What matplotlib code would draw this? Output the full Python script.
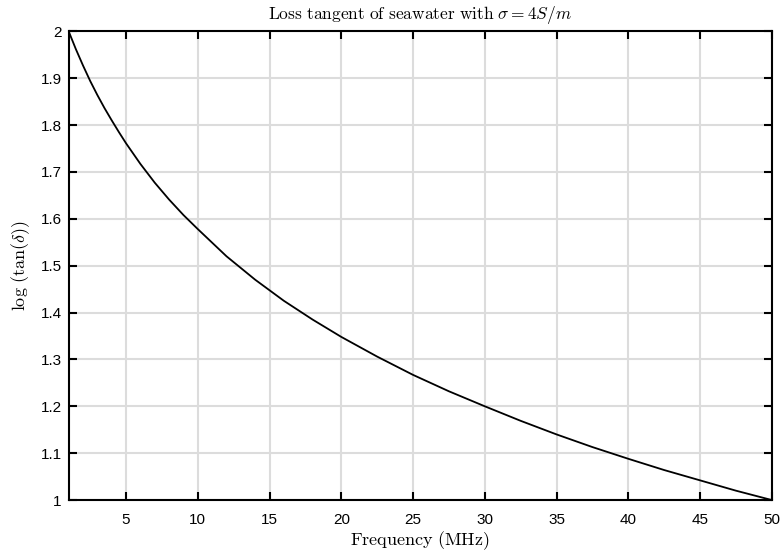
import matplotlib
matplotlib.use("Agg")
import matplotlib.pyplot as plt

plt.rcParams['font.family'] = ['Liberation Sans', 'DejaVu Sans']
plt.rcParams['mathtext.fontset'] = 'cm'

# frequency (MHz) and log10 of the loss tangent
freq = [1, 1.5, 2, 2.5, 3, 3.5, 4, 4.5, 5, 6, 7, 8, 9, 10, 12, 14, 16, 18, 20,
        22.5, 25, 27.5, 30, 32.5, 35, 37.5, 40, 42.5, 45, 47.5, 50]
log_tand = [2.0, 1.962, 1.927, 1.894, 1.864, 1.836, 1.810, 1.785, 1.761, 1.717,
            1.677, 1.641, 1.608, 1.578, 1.520, 1.470, 1.425, 1.385, 1.348,
            1.306, 1.267, 1.232, 1.200, 1.169, 1.140, 1.113, 1.088, 1.064,
            1.042, 1.020, 1.0]
xticks = [5, 10, 15, 20, 25, 30, 35, 40, 45, 50]
yticks = [1, 1.1, 1.2, 1.3, 1.4, 1.5, 1.6, 1.7, 1.8, 1.9, 2]
ytick_labels = ['1', '1.1', '1.2', '1.3', '1.4', '1.5', '1.6', '1.7', '1.8', '1.9', '2']

fig = plt.figure(figsize=(7.83, 5.53), dpi=100)
ax = fig.add_axes([0.0877, 0.0958, 0.8979, 0.8476])

ax.plot(freq, log_tand, color='black', linewidth=1.3, zorder=3)

ax.set_xlim(1, 50)
ax.set_ylim(1, 2)
ax.set_xticks(xticks)
ax.set_yticks(yticks)
ax.set_yticklabels(ytick_labels)
ax.grid(True, color='#dcdcdc', linewidth=1.5, zorder=0)
ax.set_axisbelow(True)

ax.tick_params(direction='in', length=6, width=1.5, top=True, right=True,
               labelsize=11)
ax.tick_params(axis='x', pad=9.5)
ax.tick_params(axis='y', pad=5)
for s in ax.spines.values():
    s.set_linewidth(1.5)

ax.set_title(r'$\mathrm{Loss\ tangent\ of\ seawater\ with\ }\sigma = 4S/m$',
             fontsize=12.5, pad=9)
ax.set_xlabel(r'$\mathrm{Frequency\ (MHz)}$', fontsize=13, labelpad=1.5)
ax.set_ylabel(r'$\log\,(\tan(\delta))$', fontsize=13, labelpad=6)

fig.savefig('out.png', dpi=100)
